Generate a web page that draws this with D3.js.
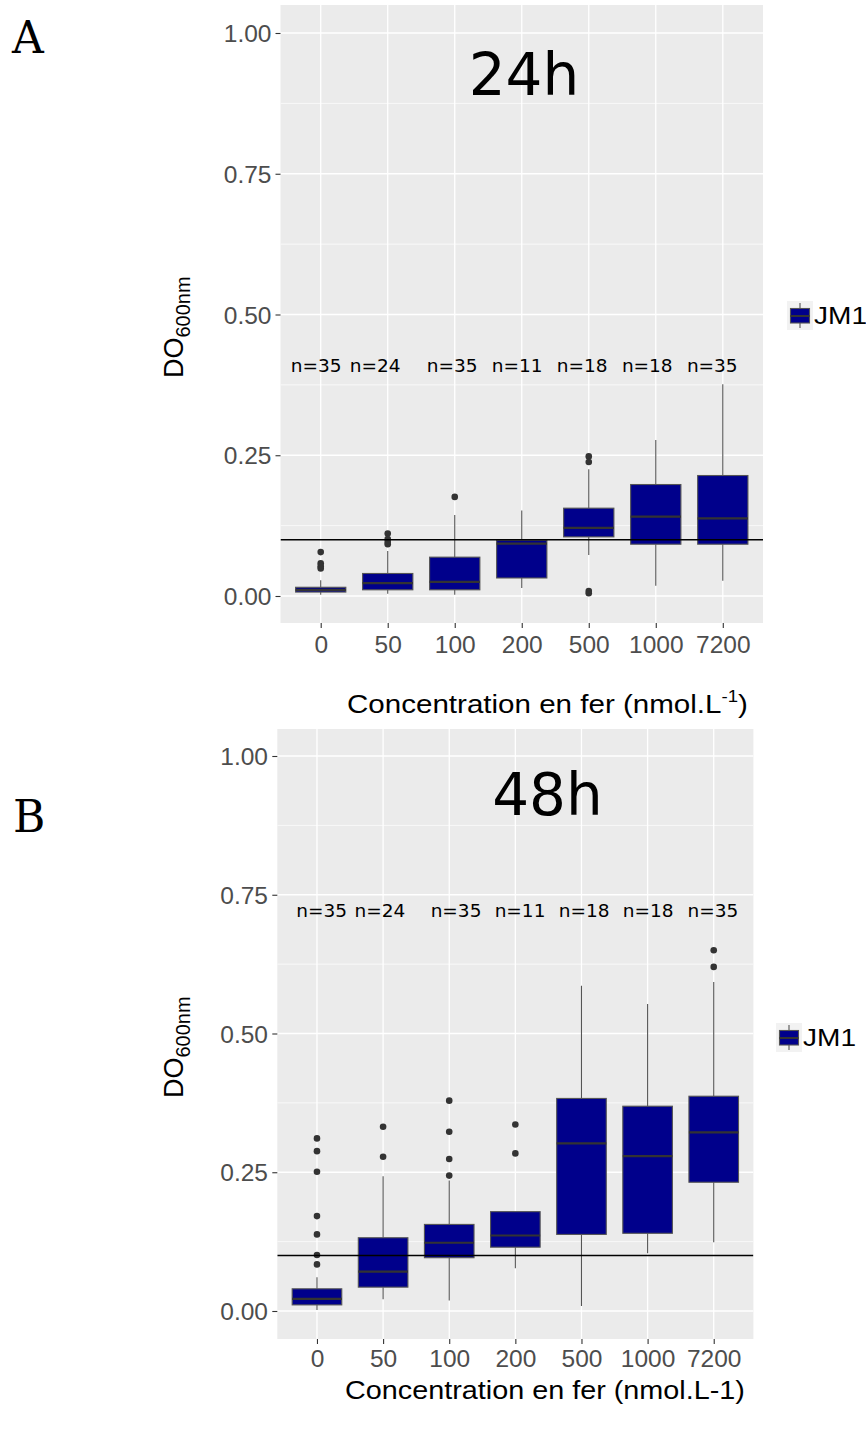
<!DOCTYPE html>
<html><head><meta charset="utf-8">
<script src="https://cdn.jsdelivr.net/npm/d3@7/dist/d3.min.js"></script>
<style>body{margin:0;background:#fff}svg{display:block}</style>
</head><body>
<svg id="chart" width="866" height="1434"></svg>
<script>
// ---------------- DATA ----------------
const categories = ["0","50","100","200","500","1000","7200"];
const nLabels = ["n=35","n=24","n=35","n=11","n=18","n=18","n=35"];
const yTickValues = [0, 0.25, 0.5, 0.75, 1.0];
const threshold = 0.1;
const seriesName = "JM1";

// 24h
const lo24  = [0.002, 0.004, 0.002, 0.014, 0.073, 0.018, 0.027];
const q1_24 = [0.007, 0.011, 0.011, 0.032, 0.105, 0.092, 0.092];
const med24 = [0.011, 0.023, 0.025, 0.093, 0.121, 0.141, 0.138];
const q3_24 = [0.0155, 0.040, 0.069, 0.099, 0.156, 0.198, 0.214];
const hi24  = [0.028, 0.080, 0.144, 0.152, 0.225, 0.277, 0.376];
const out24 = [[0.078, 0.058, 0.053, 0.049], [0.111, 0.101, 0.096, 0.092], [0.176], [], [0.248, 0.238, 0.009, 0.005], [], []];

// 48h
const lo48  = [0.002, 0.021, 0.019, 0.077, 0.009, 0.104, 0.124];
const q1_48 = [0.011, 0.043, 0.096, 0.115, 0.138, 0.140, 0.232];
const med48 = [0.022, 0.071, 0.123, 0.136, 0.302, 0.279, 0.322];
const q3_48 = [0.040, 0.132, 0.156, 0.179, 0.383, 0.369, 0.387];
const hi48  = [0.061, 0.243, 0.235, 0.179, 0.586, 0.553, 0.593];
const out48 = [[0.311, 0.288, 0.251, 0.171, 0.138, 0.101, 0.084], [0.332, 0.278], [0.379, 0.323, 0.274, 0.244], [0.336, 0.284], [], [], [0.650, 0.620]];

// ---------------- LAYOUT ----------------
const panels = [
  {letter:"A", title:"24h", lo:lo24, q1:q1_24, med:med24, q3:q3_24, hi:hi24, out:out24,
   left:280.5, right:763, top:5, bottom:623, y0:596, y1:33,
   nudge:[-0.067,-0.187,-0.037,-0.067,-0.097,-0.127,-0.157], nY:371.7,
   titleX:524, titleY:95, letterX:12, letterY:53,
   yLabX:183, yLabY:378, xTitleX:347, xTitleY:713, xTitleW:401, sup:true,
   legX:787, legY:301, tickLabR:271.5, xLabY:653},
  {letter:"B", title:"48h", lo:lo48, q1:q1_48, med:med48, q3:q3_48, hi:hi48, out:out48,
   left:277.3, right:753.4, top:729, bottom:1339, y0:1311, y1:756,
   nudge:[0.071,-0.047,0.103,0.071,0.039,0.008,-0.014], nY:917,
   titleX:547.5, titleY:815, letterX:13, letterY:832,
   yLabX:183, yLabY:1098, xTitleX:345, xTitleY:1399, xTitleW:400, sup:false,
   legX:776, legY:1023, tickLabR:268, xLabY:1367}
];

const svg = d3.select("#chart");
const sans = "'Liberation Sans', Arial, sans-serif";
const dejavu = "'DejaVu Sans', sans-serif";

panels.forEach((p, pi) => {
  const x = d3.scalePoint().domain(categories).range([p.left, p.right]).padding(0.6);
  const y = d3.scaleLinear().domain([0, 1]).range([p.y0, p.y1]);
  const step = x.step();
  const bw = step * 0.75;
  const g = svg.append("g");

  // panel background
  g.append("rect").attr("x", p.left).attr("y", p.top)
    .attr("width", p.right - p.left).attr("height", p.bottom - p.top).attr("fill", "#EBEBEB");

  const clipId = "clip" + pi;
  svg.append("clipPath").attr("id", clipId).append("rect")
    .attr("x", p.left).attr("y", p.top).attr("width", p.right - p.left).attr("height", p.bottom - p.top);
  const pg = g.append("g").attr("clip-path", `url(#${clipId})`);

  // minor gridlines
  const minor = [];
  for (let i = 0; i < yTickValues.length - 1; i++) minor.push((yTickValues[i] + yTickValues[i+1]) / 2);
  pg.selectAll(".minor").data(minor).enter().append("line")
    .attr("x1", p.left).attr("x2", p.right).attr("y1", d => y(d)).attr("y2", d => y(d))
    .attr("stroke", "#fff").attr("stroke-width", 0.7);
  // major gridlines
  pg.selectAll(".majory").data(yTickValues).enter().append("line")
    .attr("x1", p.left).attr("x2", p.right).attr("y1", d => y(d)).attr("y2", d => y(d))
    .attr("stroke", "#fff").attr("stroke-width", 1.3);
  pg.selectAll(".majorx").data(categories).enter().append("line")
    .attr("x1", d => x(d)).attr("x2", d => x(d)).attr("y1", p.top).attr("y2", p.bottom)
    .attr("stroke", "#fff").attr("stroke-width", 1.3);

  // boxplots
  categories.forEach((c, i) => {
    const cx = x(c);
    const bg = pg.append("g");
    bg.append("line").attr("x1", cx).attr("x2", cx).attr("y1", y(p.q3[i])).attr("y2", y(p.hi[i]))
      .attr("stroke", "#555").attr("stroke-width", 1.1);
    bg.append("line").attr("x1", cx).attr("x2", cx).attr("y1", y(p.q1[i])).attr("y2", y(p.lo[i]))
      .attr("stroke", "#555").attr("stroke-width", 1.1);
    bg.append("rect").attr("x", cx - bw/2).attr("width", bw)
      .attr("y", y(p.q3[i])).attr("height", y(p.q1[i]) - y(p.q3[i]))
      .attr("fill", "#00008B").attr("stroke", "#555").attr("stroke-width", 1.1);
    bg.append("line").attr("x1", cx - bw/2).attr("x2", cx + bw/2)
      .attr("y1", y(p.med[i])).attr("y2", y(p.med[i]))
      .attr("stroke", "#333").attr("stroke-width", 2.2);
    bg.selectAll("circle").data(p.out[i]).enter().append("circle")
      .attr("cx", cx).attr("cy", d => y(d)).attr("r", 3.3).attr("fill", "#333");
  });

  // threshold line
  pg.append("line").attr("x1", p.left).attr("x2", p.right)
    .attr("y1", y(threshold)).attr("y2", y(threshold))
    .attr("stroke", "#000").attr("stroke-width", 1.6);

  // n labels
  g.selectAll(".nlab").data(nLabels).enter().append("text")
    .attr("x", (d, i) => x(categories[i]) + p.nudge[i] * step).attr("y", p.nY)
    .attr("text-anchor", "middle").attr("font-family", dejavu).attr("font-size", 18.5)
    .attr("fill", "#000").text(d => d);

  // panel title
  g.append("text").attr("x", p.titleX).attr("y", p.titleY).attr("text-anchor", "middle")
    .attr("font-family", dejavu).attr("font-size", 58).attr("fill", "#000").text(p.title);

  // y axis
  const yAxis = d3.axisLeft(y).tickValues(yTickValues).tickFormat(d3.format(".2f")).tickSize(5).tickPadding(3);
  const ya = g.append("g").attr("transform", `translate(${p.left},0)`).call(yAxis);
  ya.select(".domain").remove();
  ya.selectAll(".tick line").attr("stroke", "#333").attr("stroke-width", 1.1);
  ya.selectAll(".tick text").attr("x", -(p.left - p.tickLabR)).attr("dy", "0.35em")
    .attr("font-family", sans).attr("font-size", 24.5).attr("fill", "#4D4D4D");

  // x axis
  const xAxis = d3.axisBottom(x).tickSize(5).tickPadding(3);
  const xa = g.append("g").attr("transform", `translate(0,${p.bottom})`).call(xAxis);
  xa.select(".domain").remove();
  xa.selectAll(".tick line").attr("stroke", "#333").attr("stroke-width", 1.1);
  xa.selectAll(".tick text").attr("y", p.xLabY - p.bottom).attr("dy", 0)
    .attr("font-family", sans).attr("font-size", 24.5).attr("fill", "#4D4D4D");

  // x title
  const xt = g.append("text").attr("x", p.xTitleX).attr("y", p.xTitleY)
    .attr("font-family", sans).attr("font-size", 25.5).attr("fill", "#000");
  if (p.sup) {
    xt.append("tspan").text("Concentration en fer (nmol.L");
    xt.append("tspan").attr("font-size", 16).attr("dy", -11).text("-1");
    xt.append("tspan").attr("dy", 11).text(")");
  } else {
    xt.text("Concentration en fer (nmol.L-1)");
  }
  const w = xt.node().getComputedTextLength();
  if (w > 0) xt.attr("transform", `translate(${p.xTitleX},0) scale(${p.xTitleW / w},1) translate(${-p.xTitleX},0)`);

  // y title (rotated)
  const yt = g.append("text").attr("transform", `translate(${p.yLabX},${p.yLabY}) rotate(-90)`)
    .attr("font-family", sans).attr("font-size", 27).attr("fill", "#000");
  yt.append("tspan").text("DO");
  yt.append("tspan").attr("font-size", 20).attr("dy", 7).text("600nm");

  // panel letter
  g.append("text").attr("x", p.letterX).attr("y", p.letterY)
    .attr("font-family", "'DejaVu Serif', 'Liberation Serif', serif").attr("font-size", 44)
    .attr("fill", "#000").text(p.letter);

  // legend
  const lg = g.append("g").attr("transform", `translate(${p.legX},${p.legY})`);
  lg.append("rect").attr("width", 26).attr("height", 29).attr("fill", "#F2F2F2");
  lg.append("line").attr("x1", 13).attr("x2", 13).attr("y1", 2).attr("y2", 27)
    .attr("stroke", "#555").attr("stroke-width", 1.1);
  lg.append("rect").attr("x", 3.5).attr("y", 7.5).attr("width", 19).attr("height", 14.5)
    .attr("fill", "#00008B").attr("stroke", "#555").attr("stroke-width", 1.1);
  lg.append("line").attr("x1", 3.5).attr("x2", 22.5).attr("y1", 15).attr("y2", 15)
    .attr("stroke", "#333").attr("stroke-width", 2);
  const lt = lg.append("text").attr("x", 27).attr("y", 23.5)
    .attr("font-family", sans).attr("font-size", 23).attr("fill", "#000").text(seriesName);
  const lw = lt.node().getComputedTextLength();
  if (lw > 0) lt.attr("transform", `translate(27,0) scale(${53 / lw},1) translate(-27,0)`);
});
</script>
</body></html>
